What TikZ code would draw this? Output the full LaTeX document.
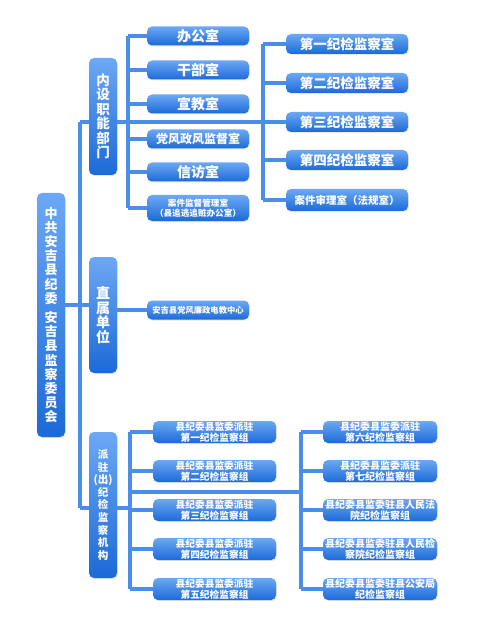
\documentclass[tikz,border=0pt]{standalone}
\usepackage{fontspec}
\setmainfont{Noto Sans CJK SC}
\usetikzlibrary{shadows}
\definecolor{boxtop}{RGB}{108,168,244}
\definecolor{boxbot}{RGB}{28,106,216}
\definecolor{linkblue}{RGB}{74,142,234}

\begin{document}
\begin{tikzpicture}[x=1pt,y=-1pt,
  unit/.style={rounded corners=5pt, top color=boxtop, bottom color=boxbot,
    text=white, inner sep=0pt, align=center,
    drop shadow={opacity=0.18, shadow xshift=0.8pt, shadow yshift=-1pt}},
  tall/.style={unit, minimum width=28pt},
  office/.style={unit, minimum width=102pt, minimum height=19pt},
  room/.style={unit, minimum width=122pt, minimum height=20pt},
  groupl/.style={unit, minimum width=123pt, minimum height=22pt,
    font=\bfseries\fontsize{9.7}{11}\selectfont},
  groupr/.style={unit, minimum width=114pt, minimum height=22pt,
    font=\bfseries\fontsize{10}{11}\selectfont},
  link/.style={linkblue, line width=3.2pt}]

\useasboundingbox (0,0) rectangle (500,628);

% root and first level
\node[tall, minimum height=244pt, font=\bfseries\fontsize{13}{14.2}\selectfont] (root) at (51,315)
  {中\\共\\安\\吉\\县\\纪\\委\\[5pt]安\\吉\\县\\监\\察\\委\\员\\会};
\node[tall, minimum height=117pt, font=\bfseries\fontsize{13.5}{14.5}\selectfont] (nei) at (103,116.5)
  {内\\设\\职\\能\\部\\门};
\node[tall, minimum height=116pt, font=\bfseries\fontsize{14}{14.5}\selectfont] (zhi) at (103,315)
  {直\\属\\单\\位};
\node[tall, minimum height=146pt, font=\bfseries\fontsize{10.5}{12.6}\selectfont] (pai) at (103,505)
  {派\\驻\\(出)\\纪\\检\\监\\察\\机\\构};

% internal offices
\node[office, font=\bfseries\fontsize{14}{15}\selectfont] (bgs) at (198,36) {办公室};
\node[office, font=\bfseries\fontsize{14}{15}\selectfont] (gbs) at (198,70) {干部室};
\node[office, font=\bfseries\fontsize{14}{15}\selectfont] (xjs) at (198,104) {宣教室};
\node[office, font=\bfseries\fontsize{12}{13}\selectfont] (dfs) at (198,139) {党风政风监督室};
\node[office, font=\bfseries\fontsize{14}{15}\selectfont] (xfs) at (198,172) {信访室};
\node[office, minimum height=26pt, font=\bfseries\fontsize{8.6}{10}\selectfont] (ajjd) at (198,208)
  {案件监督管理室\\（县追逃追赃办公室）};

\node[room, font=\bfseries\fontsize{13.5}{15}\selectfont] (jj1) at (347,44) {第一纪检监察室};
\node[room, font=\bfseries\fontsize{13.5}{15}\selectfont] (jj2) at (347,83) {第二纪检监察室};
\node[room, font=\bfseries\fontsize{13.5}{15}\selectfont] (jj3) at (347,122) {第三纪检监察室};
\node[room, font=\bfseries\fontsize{13.5}{15}\selectfont] (jj4) at (347,160) {第四纪检监察室};
\node[room, minimum height=22pt, font=\bfseries\fontsize{10.5}{12}\selectfont] (ajsl) at (347,200)
  {案件审理室（法规室）};

% affiliated unit
\node[office, font=\bfseries\fontsize{8.3}{10}\selectfont] (djzx) at (198,310) {安吉县党风廉政电教中心};

% stationed groups
\node[groupl] (pz1) at (214.5,432) {县纪委县监委派驻\\第一纪检监察组};
\node[groupl] (pz2) at (214.5,471) {县纪委县监委派驻\\第二纪检监察组};
\node[groupl] (pz3) at (214.5,510) {县纪委县监委派驻\\第三纪检监察组};
\node[groupl] (pz4) at (214.5,549) {县纪委县监委派驻\\第四纪检监察组};
\node[groupl] (pz5) at (214.5,589) {县纪委县监委派驻\\第五纪检监察组};
\node[groupr] (pz6) at (380,432) {县纪委县监委派驻\\第六纪检监察组};
\node[groupr] (pz7) at (380,471) {县纪委县监委派驻\\第七纪检监察组};
\node[groupr] (fy) at (380,510) {县纪委县监委驻县人民法\\院纪检监察组};
\node[groupr] (jcy) at (380,549) {县纪委县监委驻县人民检\\察院纪检监察组};
\node[groupr] (gaj) at (380,589) {县纪委县监委驻县公安局\\纪检监察组};

% connectors
\coordinate (trunktop) at (80,122);
\coordinate (trunkbot) at (80,508);
\coordinate (trunkmid) at (80,305);
\coordinate (neisplit) at (128,122);
\coordinate (roomsplit) at (263,122);
\coordinate (paisplit) at (130,492);
\coordinate (grpsplit) at (301,492);

\draw[link] (trunktop) -- (trunkbot);
\draw[link] (trunktop) -- (nei.west |- trunktop);
\draw[link] (root.east |- trunkmid) -- (zhi.west |- trunkmid);
\draw[link] (trunkbot) -- (pai.west |- trunkbot);

\draw[link] (nei.east |- neisplit) -- (roomsplit);
\draw[link] (bgs.west -| neisplit) -- (ajjd.west -| neisplit);
\foreach \n in {bgs,gbs,xjs,dfs,xfs,ajjd}
  \draw[link] (\n.west -| neisplit) -- (\n.west);
\draw[link] (jj1.west -| roomsplit) -- (ajsl.west -| roomsplit);
\foreach \n in {jj1,jj2,jj3,jj4,ajsl}
  \draw[link] (\n.west -| roomsplit) -- (\n.west);

\draw[link] (zhi.east |- djzx) -- (djzx.west);

\draw[link] (pai.east |- trunkbot) -- (paisplit |- trunkbot);
\draw[link] (pz1.west -| paisplit) -- (pz5.west -| paisplit);
\draw[link] (paisplit) -- (grpsplit);
\foreach \n in {pz1,pz2,pz3,pz4,pz5}
  \draw[link] (\n.west -| paisplit) -- (\n.west);
\draw[link] (pz6.west -| grpsplit) -- (gaj.west -| grpsplit);
\foreach \n in {pz6,pz7,fy,jcy,gaj}
  \draw[link] (\n.west -| grpsplit) -- (\n.west);

\end{tikzpicture}
\end{document}
